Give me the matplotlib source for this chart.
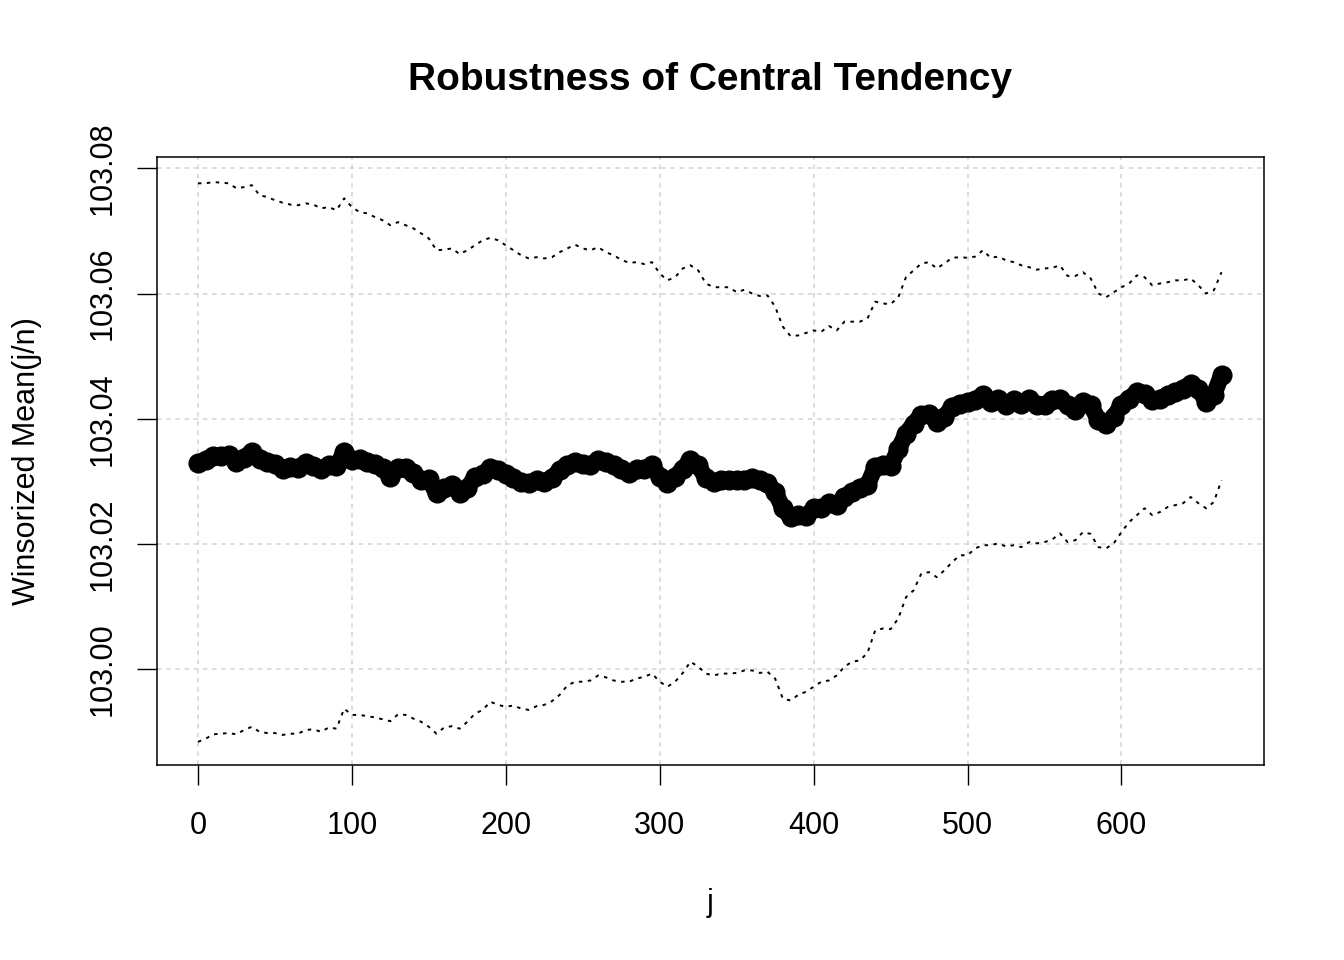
import matplotlib
matplotlib.use("Agg")
import matplotlib.pyplot as plt

plt.rcParams["font.family"] = ["Liberation Sans", "DejaVu Sans"]

# j positions (every 5th index) and values
j_vals = list(range(0, 670, 5))

wmean = [
    103.0329, 103.0334, 103.0340, 103.0341, 103.0342, 103.0331, 103.0338, 103.0347, 103.0335, 103.0331,
    103.0328, 103.0320, 103.0323, 103.0322, 103.0329, 103.0324, 103.0319, 103.0326, 103.0324, 103.0347,
    103.0334, 103.0336, 103.0331, 103.0327, 103.0322, 103.0307, 103.0322, 103.0322, 103.0313, 103.0302,
    103.0303, 103.0281, 103.0289, 103.0294, 103.0282, 103.0289, 103.0307, 103.0311, 103.0322, 103.0318,
    103.0311, 103.0305, 103.0299, 103.0297, 103.0302, 103.0299, 103.0305, 103.0318, 103.0326, 103.0331,
    103.0328, 103.0326, 103.0334, 103.0331, 103.0326, 103.0320, 103.0313, 103.0320, 103.0320, 103.0326,
    103.0307, 103.0297, 103.0307, 103.0320, 103.0334, 103.0326, 103.0305, 103.0299, 103.0302, 103.0302,
    103.0302, 103.0302, 103.0305, 103.0302, 103.0297, 103.0283, 103.0257, 103.0243, 103.0246, 103.0244,
    103.0257, 103.0257, 103.0265, 103.0262, 103.0275, 103.0283, 103.0290, 103.0294, 103.0323, 103.0326,
    103.0324, 103.0351, 103.0376, 103.0392, 103.0406, 103.0408, 103.0395, 103.0403, 103.0419, 103.0424,
    103.0427, 103.0430, 103.0438, 103.0427, 103.0432, 103.0422, 103.0430, 103.0424, 103.0432, 103.0422,
    103.0422, 103.0430, 103.0432, 103.0422, 103.0414, 103.0427, 103.0422, 103.0398, 103.0392, 103.0403,
    103.0422, 103.0432, 103.0443, 103.0440, 103.0430, 103.0432, 103.0438, 103.0443, 103.0448, 103.0456,
    103.0448, 103.0427, 103.0438, 103.0470,
]

upper = [
    103.0776, 103.0776, 103.0778, 103.0777, 103.0776, 103.0768, 103.0770, 103.0773, 103.0757, 103.0754,
    103.0749, 103.0745, 103.0742, 103.0741, 103.0744, 103.0742, 103.0736, 103.0738, 103.0733, 103.0752,
    103.0738, 103.0730, 103.0728, 103.0722, 103.0717, 103.0709, 103.0714, 103.0709, 103.0704, 103.0696,
    103.0688, 103.0669, 103.0670, 103.0672, 103.0663, 103.0669, 103.0677, 103.0685, 103.0689, 103.0685,
    103.0677, 103.0669, 103.0661, 103.0656, 103.0658, 103.0656, 103.0658, 103.0666, 103.0672, 103.0678,
    103.0672, 103.0669, 103.0674, 103.0666, 103.0661, 103.0654, 103.0649, 103.0650, 103.0647, 103.0650,
    103.0632, 103.0621, 103.0626, 103.0640, 103.0645, 103.0637, 103.0616, 103.0610, 103.0610, 103.0610,
    103.0602, 103.0606, 103.0600, 103.0596, 103.0597, 103.0579, 103.0547, 103.0532, 103.0533, 103.0537,
    103.0541, 103.0539, 103.0548, 103.0541, 103.0555, 103.0555, 103.0555, 103.0560, 103.0587, 103.0584,
    103.0583, 103.0594, 103.0626, 103.0637, 103.0648, 103.0650, 103.0640, 103.0648, 103.0657, 103.0658,
    103.0657, 103.0659, 103.0669, 103.0657, 103.0659, 103.0653, 103.0650, 103.0645, 103.0642, 103.0638,
    103.0640, 103.0641, 103.0645, 103.0628, 103.0628, 103.0634, 103.0624, 103.0600, 103.0594, 103.0602,
    103.0610, 103.0616, 103.0629, 103.0626, 103.0613, 103.0616, 103.0618, 103.0621, 103.0621, 103.0624,
    103.0613, 103.0600, 103.0605, 103.0634,
]

lower = [
    102.9884, 102.9889, 102.9896, 102.9897, 102.9898, 102.9896, 102.9903, 102.9908, 102.9900, 102.9898,
    102.9898, 102.9895, 102.9897, 102.9897, 102.9903, 102.9904, 102.9900, 102.9907, 102.9905, 102.9937,
    102.9927, 102.9927, 102.9925, 102.9923, 102.9920, 102.9917, 102.9928, 102.9927, 102.9921, 102.9916,
    102.9908, 102.9897, 102.9907, 102.9909, 102.9905, 102.9916, 102.9929, 102.9935, 102.9948, 102.9943,
    102.9940, 102.9942, 102.9937, 102.9935, 102.9941, 102.9943, 102.9949, 102.9959, 102.9974, 102.9980,
    102.9980, 102.9982, 102.9990, 102.9987, 102.9982, 102.9980, 102.9980, 102.9985, 102.9988, 102.9993,
    102.9980, 102.9972, 102.9980, 102.9994, 103.0012, 103.0004, 102.9993, 102.9990, 102.9993, 102.9993,
    102.9994, 102.9998, 102.9998, 102.9994, 102.9996, 102.9985, 102.9953, 102.9950, 102.9959, 102.9964,
    102.9972, 102.9980, 102.9982, 102.9990, 103.0004, 103.0012, 103.0014, 103.0026, 103.0062, 103.0065,
    103.0064, 103.0081, 103.0115, 103.0126, 103.0153, 103.0155, 103.0147, 103.0158, 103.0171, 103.0182,
    103.0182, 103.0193, 103.0198, 103.0198, 103.0201, 103.0196, 103.0198, 103.0195, 103.0203, 103.0201,
    103.0203, 103.0207, 103.0217, 103.0203, 103.0206, 103.0219, 103.0216, 103.0195, 103.0193, 103.0201,
    103.0219, 103.0235, 103.0246, 103.0257, 103.0246, 103.0251, 103.0259, 103.0262, 103.0265, 103.0275,
    103.0265, 103.0257, 103.0267, 103.0302,
]

x_ticks = [0, 100, 200, 300, 400, 500, 600]
y_ticks = [103.00, 103.02, 103.04, 103.06, 103.08]

fig = plt.figure(figsize=(13.44, 9.6), dpi=100)
ax = fig.add_axes([157 / 1344, 1 - 765 / 960, 1107 / 1344, 608 / 960])

for x in x_ticks:
    ax.axvline(x, color="#d3d3d3", linewidth=1.1, dashes=(3, 3), zorder=0)
for y in y_ticks:
    ax.axhline(y, color="#d3d3d3", linewidth=1.1, dashes=(3, 3), zorder=0)

ax.plot(j_vals, upper, color="black", linewidth=1.4, dashes=(1.8, 2.8), zorder=2)
ax.plot(j_vals, lower, color="black", linewidth=1.4, dashes=(1.8, 2.8), zorder=2)
ax.plot(j_vals, wmean, color="black", linewidth=12, solid_capstyle="round",
        solid_joinstyle="round", marker="o", markersize=13.5, zorder=3)

ax.set_xlim(-26.6, 692.6)
ax.set_ylim(102.9847, 103.0818)
ax.set_xticks(x_ticks)
ax.set_xticklabels([str(x) for x in x_ticks])
ax.set_yticks(y_ticks)
ax.set_yticklabels([f"{y:.2f}" for y in y_ticks], rotation=90, va="center")
ax.tick_params(axis="both", direction="out", length=14.4, width=1.0, labelsize=22)
ax.tick_params(axis="x", pad=19)
ax.tick_params(axis="y", pad=14)
for side in ["left", "right", "top", "bottom"]:
    ax.spines[side].set_linewidth(1.1)

fig.text(710.5 / 1344, 1 - 80 / 960, "Robustness of Central Tendency",
         ha="center", va="center", fontsize=28, fontweight="bold")
fig.text(710.5 / 1344, 1 - 903 / 960, "j", ha="center", va="center", fontsize=22)
fig.text(27 / 1344, 1 - 461 / 960, "Winsorized Mean(j/n)", ha="center", va="center",
         rotation=90, fontsize=22)

fig.savefig("out.png", dpi=100)
